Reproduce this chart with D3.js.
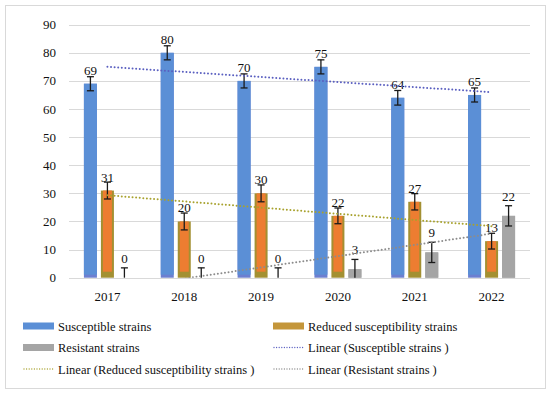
<!DOCTYPE html>
<html>
<head>
<meta charset="utf-8">
<script src="https://cdn.jsdelivr.net/npm/d3@7"></script>
<style>
  body { margin: 0; background: #fff; }
  svg text { font-family: "Palatino Linotype", "Book Antiqua", "Liberation Serif", serif; fill: #111; }
</style>
</head>
<body>
<script>
// data
const years = ["2017", "2018", "2019", "2020", "2021", "2022"];
const susceptible = [69, 80, 70, 75, 64, 65];
const reduced = [31, 20, 30, 22, 27, 13];
const resistant = [0, 0, 0, 3, 9, 22];
const errSusceptible = [2.5, 2.5, 2.5, 2.5, 2.6, 2.5];
const errReduced = [3, 3, 3, 2.8, 2.9, 2.8];
const errResistant = [3.5, 3.5, 3.5, 3.5, 3.6, 3.6];
const yTicks = [0, 10, 20, 30, 40, 50, 60, 70, 80, 90];

const seriesKeys = ["s", "r", "x"];
const barColor = { s: "#5b8fd6", r: "#ed7d31", x: "#a5a5a5" };
const bottomColor = { s: "#6c7fd0", r: "#a39032", x: "#a5a5a5" };
const bottomBand = { s: 3, r: 6, x: 0 };
const trendColor = { s: "#5a5fc0", r: "#a8a22e", x: "#8c8c8c" };
const labelLift = { s: 9, r: 9, x: 15 };

const W = 550, H = 394;
const svg = d3.select("body").append("svg").attr("width", W).attr("height", H);

// frame
svg.append("rect").attr("x", 5.5).attr("y", 5.5).attr("width", 540).attr("height", 383)
  .attr("fill", "#fff").attr("stroke", "#d9d9d9");

const plotLeft = 69, plotRight = 530, plotTop = 24.7, plotBottom = 277.7;
const y = d3.scaleLinear().domain([0, 90]).range([plotBottom, plotTop]);
const x = d3.scaleBand().domain(years).range([plotLeft, plotRight]);
const x1 = d3.scaleBand().domain(seriesKeys).range([-23.5, 23.5]).paddingInner(0.235).paddingOuter(0);

// grid
svg.append("g").selectAll("line").data(yTicks).enter().append("line")
  .attr("x1", plotLeft).attr("x2", plotRight)
  .attr("y1", d => Math.round(y(d)) + 0.5).attr("y2", d => Math.round(y(d)) + 0.5)
  .attr("stroke", "#d9d9d9").attr("stroke-width", 1);

svg.append("g").selectAll("text").data(yTicks).enter().append("text")
  .attr("x", 56).attr("y", d => y(d) + 4.5)
  .attr("text-anchor", "end").attr("font-size", 13).text(d => d);

svg.append("g").selectAll("text").data(years).enter().append("text")
  .attr("x", d => x(d) + x.bandwidth() / 2).attr("y", 300.5)
  .attr("text-anchor", "middle").attr("font-size", 13).text(d => d);

// rows of bar data
let rows = [];
years.forEach((yr, i) => {
  rows.push({ year: yr, key: "s", v: susceptible[i], e: errSusceptible[i] });
  rows.push({ year: yr, key: "r", v: reduced[i], e: errReduced[i] });
  rows.push({ year: yr, key: "x", v: resistant[i], e: errResistant[i] });
});

const cx = d => x(d.year) + x.bandwidth() / 2 + x1(d.key) + x1.bandwidth() / 2;
const bw = x1.bandwidth();

let bars = svg.append("g").selectAll("g").data(rows).enter().append("g");

// bar body (darker base colour shows at the edges / bottom)
bars.append("rect")
  .attr("x", d => cx(d) - bw / 2).attr("width", bw)
  .attr("y", d => y(d.v)).attr("height", d => y(0) - y(d.v))
  .attr("fill", d => bottomColor[d.key]);

bars.append("rect")
  .attr("x", d => cx(d) - bw / 2 + (d.key == "r" ? 2 : 0))
  .attr("width", d => bw - (d.key == "r" ? 4 : 0))
  .attr("y", d => y(d.v))
  .attr("height", d => Math.max(0, y(0) - y(d.v) - bottomBand[d.key]))
  .attr("fill", d => barColor[d.key]);

// error bars
const errColor = "#1a1a1a";
bars.append("line")
  .attr("x1", cx).attr("x2", cx)
  .attr("y1", d => y(d.v + d.e)).attr("y2", d => y(Math.max(0, d.v - d.e)))
  .attr("stroke", errColor).attr("stroke-width", 1.3);
bars.append("line")
  .attr("x1", d => cx(d) - 3.5).attr("x2", d => cx(d) + 3.5)
  .attr("y1", d => y(d.v + d.e)).attr("y2", d => y(d.v + d.e))
  .attr("stroke", errColor).attr("stroke-width", 1.3);
bars.filter(d => d.v - d.e > 0).append("line")
  .attr("x1", d => cx(d) - 3.5).attr("x2", d => cx(d) + 3.5)
  .attr("y1", d => y(d.v - d.e)).attr("y2", d => y(d.v - d.e))
  .attr("stroke", errColor).attr("stroke-width", 1.3);

// trend lines (least squares on category index)
function linearFit(vals) {
  let n = vals.length;
  let mx = (n + 1) / 2;
  let my = d3.mean(vals);
  let sxy = 0, sxx = 0;
  vals.forEach((v, i) => { sxy += (i + 1 - mx) * (v - my); sxx += (i + 1 - mx) * (i + 1 - mx); });
  let b = sxy / sxx;
  return i => my + b * (i + 1 - mx);
}

svg.append("defs").append("clipPath").attr("id", "plotClip")
  .append("rect").attr("x", plotLeft).attr("y", plotTop - 5).attr("width", plotRight - plotLeft).attr("height", plotBottom - plotTop + 5);

const trendData = [
  { key: "s", vals: susceptible },
  { key: "r", vals: reduced },
  { key: "x", vals: resistant }
];
const trendLine = d3.line().x(d => d[0]).y(d => d[1]);
svg.append("g").attr("clip-path", "url(#plotClip)").selectAll("path").data(trendData).enter().append("path")
  .attr("d", d => {
    let f = linearFit(d.vals);
    let i0 = 0, i1 = years.length - 1;
    return trendLine([[x(years[i0]) + x.bandwidth() / 2, y(f(i0))], [x(years[i1]) + x.bandwidth() / 2, y(f(i1))]]);
  })
  .attr("fill", "none").attr("stroke", d => trendColor[d.key])
  .attr("stroke-width", 2).attr("stroke-linecap", "round").attr("stroke-dasharray", "0 3.6");

// data labels
bars.append("text")
  .attr("x", cx).attr("y", d => y(d.v) - labelLift[d.key])
  .attr("text-anchor", "middle").attr("font-size", 13).text(d => d.v);

// legend
const legendItems = [
  { label: "Susceptible strains", type: "bar", key: "s" },
  { label: "Reduced susceptibility strains", type: "bar", key: "r" },
  { label: "Resistant strains", type: "bar", key: "x" },
  { label: "Linear (Susceptible strains )", type: "line", key: "s" },
  { label: "Linear (Reduced susceptibility strains )", type: "line", key: "r" },
  { label: "Linear (Resistant strains )", type: "line", key: "x" }
];
const legendSwatch = { s: "#5b8fd6", r: "#c4963a", x: "#a5a5a5" };
const colX = [23, 273], rowY = [326, 347.5, 369];

let leg = svg.append("g").selectAll("g").data(legendItems).enter().append("g")
  .attr("transform", (d, i) => "translate(" + colX[i % 2] + "," + rowY[Math.floor(i / 2)] + ")");

leg.filter(d => d.type == "bar").append("rect")
  .attr("x", 0).attr("y", -3.5).attr("width", 31).attr("height", 7)
  .attr("fill", d => legendSwatch[d.key]);
leg.filter(d => d.type == "line").append("line")
  .attr("x1", 1).attr("x2", 30).attr("y1", 0).attr("y2", 0)
  .attr("stroke", d => trendColor[d.key]).attr("stroke-width", 1.3)
  .attr("stroke-linecap", "round").attr("stroke-dasharray", "0 2.6");
leg.append("text").attr("x", 35).attr("y", 4.5).attr("font-size", 12.5).text(d => d.label);
</script>
</body>
</html>
